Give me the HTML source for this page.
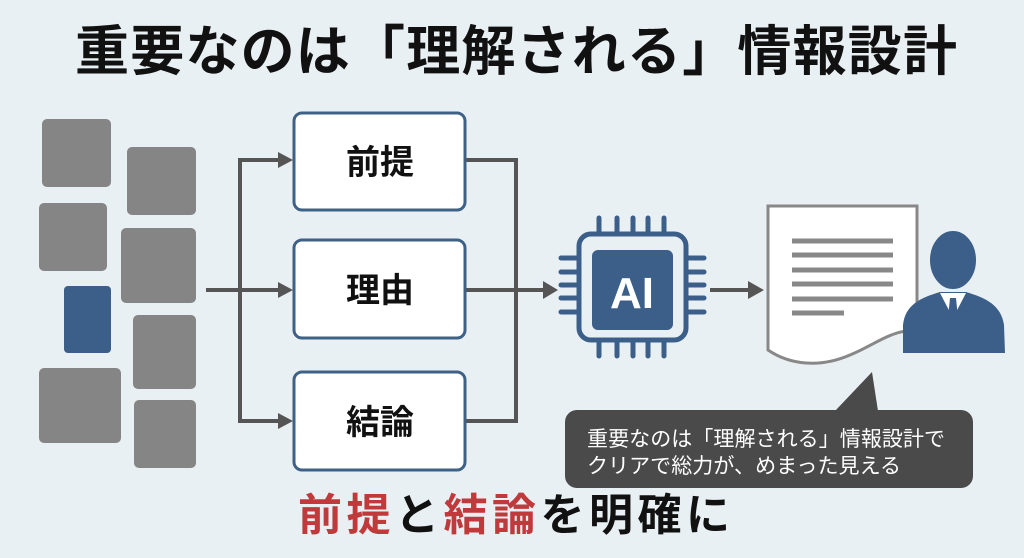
<!DOCTYPE html>
<html><head><meta charset="utf-8"><style>
html,body{margin:0;padding:0;}
body{width:1024px;height:558px;overflow:hidden;background:#e9f0f4;}
svg{display:block;}
text{font-family:"Liberation Sans","Noto Sans CJK JP",sans-serif;}
</style></head><body>
<svg width="1024" height="558" viewBox="0 0 1024 558">
<rect width="1024" height="558" fill="#e9f0f4"/>
<text x="516" y="70" text-anchor="middle" font-size="54" font-weight="bold" fill="#111" textLength="882" lengthAdjust="spacing">重要なのは「理解される」情報設計</text>
<g fill="#858585">
<rect x="42" y="119" width="69" height="68" rx="5"/>
<rect x="127" y="147" width="69" height="68" rx="5"/>
<rect x="39" y="203" width="68" height="68" rx="5"/>
<rect x="121" y="228" width="75" height="75" rx="5"/>
<rect x="133" y="315" width="63" height="74" rx="5"/>
<rect x="39" y="368" width="82" height="75" rx="5"/>
<rect x="134" y="400" width="62" height="68" rx="5"/>
</g>
<rect x="64" y="286" width="47" height="67" rx="4" fill="#3b5f88"/>
<g stroke="#555" stroke-width="4" fill="none">
<line x1="206" y1="290" x2="280" y2="290"/>
<polyline points="280,160 240,160 240,421 280,421"/>
<polyline points="465,160 516,160 516,421 465,421"/>
<line x1="465" y1="290" x2="545" y2="290"/>
<line x1="710" y1="290" x2="750" y2="290"/>
</g>
<g fill="#555">
<polygon points="278,152 293,160 278,168"/>
<polygon points="278,282 293,290 278,298"/>
<polygon points="278,413 293,421 278,429"/>
<polygon points="543,281 558,290 543,299"/>
<polygon points="748,281 764,290 748,299"/>
</g>
<g fill="#fff" stroke="#3f6186" stroke-width="3">
<rect x="294" y="113" width="171" height="97" rx="8"/>
<rect x="294" y="240" width="171" height="98" rx="8"/>
<rect x="294" y="372" width="171" height="98" rx="8"/>
</g>
<g font-size="34" font-weight="bold" fill="#111" text-anchor="middle">
<text x="380" y="174">前提</text>
<text x="380" y="302">理由</text>
<text x="380" y="434">結論</text>
</g>
<g stroke="#3b5f88" stroke-width="5" stroke-linecap="round">
<line x1="599" y1="218" x2="599" y2="232"/><line x1="617" y1="218" x2="617" y2="232"/><line x1="633" y1="218" x2="633" y2="232"/><line x1="648" y1="218" x2="648" y2="232"/><line x1="664" y1="218" x2="664" y2="232"/>
<line x1="599" y1="342" x2="599" y2="356"/><line x1="617" y1="342" x2="617" y2="356"/><line x1="633" y1="342" x2="633" y2="356"/><line x1="648" y1="342" x2="648" y2="356"/><line x1="664" y1="342" x2="664" y2="356"/>
<line x1="561" y1="258" x2="577" y2="258"/><line x1="561" y1="272" x2="577" y2="272"/><line x1="561" y1="285" x2="577" y2="285"/><line x1="561" y1="298" x2="577" y2="298"/><line x1="561" y1="312" x2="577" y2="312"/>
<line x1="688" y1="258" x2="704" y2="258"/><line x1="688" y1="272" x2="704" y2="272"/><line x1="688" y1="285" x2="704" y2="285"/><line x1="688" y1="298" x2="704" y2="298"/><line x1="688" y1="312" x2="704" y2="312"/>
</g>
<rect x="579" y="234" width="107" height="106" rx="12" fill="none" stroke="#3b5f88" stroke-width="5"/>
<rect x="592" y="250" width="81" height="80" rx="6" fill="#3b5f88"/>
<text x="632" y="308" text-anchor="middle" font-size="44" font-weight="bold" fill="#fff">AI</text>
<path d="M768,206 L917,206 L917,330 C890,330 875,345 850,355 C820,368 790,365 768,350 Z" fill="#fff" stroke="#888" stroke-width="3"/>
<g stroke="#888" stroke-width="5">
<line x1="792" y1="241" x2="893" y2="241"/><line x1="792" y1="255" x2="893" y2="255"/><line x1="792" y1="270" x2="893" y2="270"/><line x1="792" y1="284" x2="893" y2="284"/><line x1="792" y1="299" x2="893" y2="299"/><line x1="792" y1="313" x2="844" y2="313"/>
</g>
<path d="M903,353 L903,325 C905,305 920,298 940,292 L966,292 C986,298 1001,305 1004,325 L1005,353 Z" fill="#3b5f88"/>
<ellipse cx="953" cy="260" rx="24" ry="30" fill="#3b5f88" stroke="#e9f0f4" stroke-width="2"/>
<path d="M940,293 L953,318 L966,293 Z" fill="#fff"/>
<path d="M950,298 L956,298 L958,318 L953,324 L948,318 Z" fill="#3b5f88"/>
<path d="M835,411 L872,372 L878,411 Z" fill="#4a4a4a"/>
<rect x="565" y="410" width="408" height="78" rx="12" fill="#4a4a4a"/>
<g font-size="21" fill="#fff">
<text x="587" y="446" textLength="358" lengthAdjust="spacing">重要なのは「理解される」情報設計で</text>
<text x="587" y="473" textLength="314" lengthAdjust="spacing">クリアで総力が、めまった見える</text>
</g>
<text x="298" y="530" font-size="44" font-weight="bold" textLength="432" lengthAdjust="spacing"><tspan fill="#c0393b">前提</tspan><tspan fill="#111">と</tspan><tspan fill="#c0393b">結論</tspan><tspan fill="#111">を明確に</tspan></text>
</svg>
</body></html>
